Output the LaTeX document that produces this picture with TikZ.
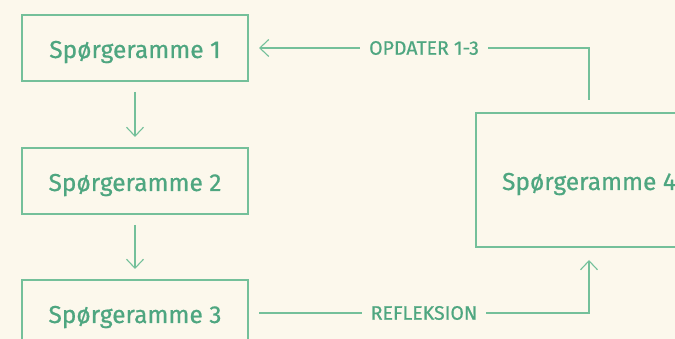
\documentclass[tikz,border=0pt]{standalone}
\usepackage{fontspec}
\setmainfont{Fira Sans}[FakeBold=0.6]
\usetikzlibrary{arrows.meta, positioning, calc}
\definecolor{paper}{HTML}{FCF8EC}
\definecolor{frame}{HTML}{74C09A}
\definecolor{ink}{HTML}{4EA680}

\begin{document}
\begin{tikzpicture}[x=1pt, y=-1pt,
    ramme/.style={draw=frame, line width=1.1pt, text=ink, minimum width=226pt,
      minimum height=66pt, inner sep=0pt, outer sep=11pt, text height=20pt, text depth=0pt,
      font=\fontsize{24.5}{27}\selectfont},
    pil/.style={draw=frame, line width=1.1pt, -{Straight Barb[length=9pt,width=17pt]}},
    etiket/.style={fill=paper, text=ink, inner xsep=9pt, font=\fontsize{19.5}{22}\selectfont}]
                % Background
                \fill[paper] (0,0) rectangle (675,339);
                \useasboundingbox (0,0) rectangle (675,339);
                
                % Frames
                \node[ramme] (s1) at (135,48) {Spørgeramme 1};
                \node[ramme] (s2) at (135,181) {Spørgeramme 2};
                \node[ramme] (s3) at (135,313) {Spørgeramme 3};
                \node[ramme, minimum height=134pt, outer sep=13pt] (s4) at (589,180) {Spørgeramme 4};
                
                % Corners
                \coordinate (k1) at (589,48);
                \coordinate (k2) at (589,313);
                
                % Edges
                \draw[pil] (s1) -- (s2);
                \draw[pil] (s2) -- (s3);
                \draw[pil] (s3.east) -- node[etiket] {REFLEKSION} (k2) -- (k2 |- s4.south);
                \draw[pil] (k1 |- s4.north) -- (k1) -- node[etiket] {OPDATER 1-3} (s1.east);
            \end{tikzpicture}
\end{document}
